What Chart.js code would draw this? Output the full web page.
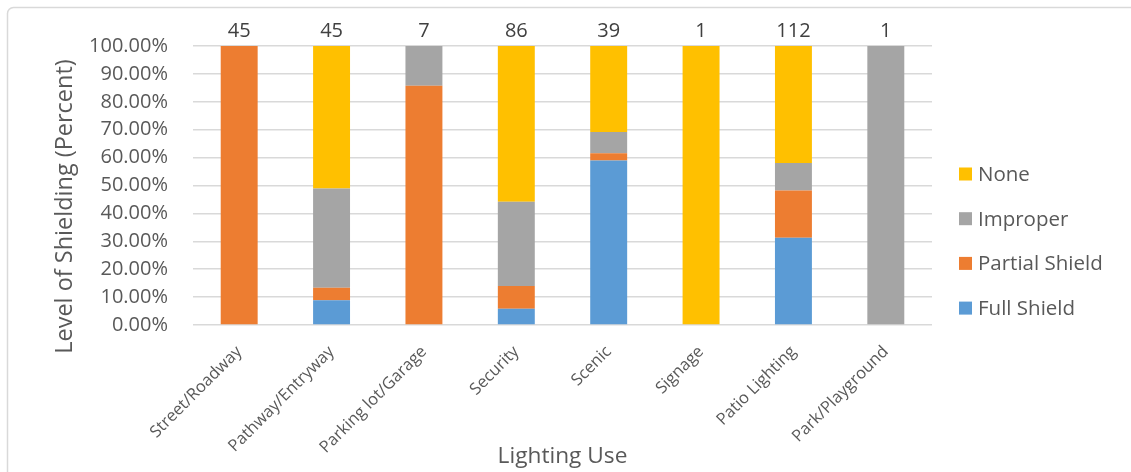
<!DOCTYPE html>
<html>
<head>
<meta charset="utf-8">
<script src="https://cdn.jsdelivr.net/npm/chart.js@4/dist/chart.umd.min.js"></script>
<style>
  html, body { margin: 0; padding: 0; background: #ffffff; }
  canvas { display: block; }
</style>
</head>
<body>
<canvas id="chart" width="1131" height="472"></canvas>
<script>
// Lighting uses surveyed
const categories = ['Street/Roadway', 'Pathway/Entryway', 'Parking lot/Garage', 'Security',
                    'Scenic', 'Signage', 'Patio Lighting', 'Park/Playground'];

// Number of fixtures counted per use (shown above each bar)
const fixtureCounts = [45, 45, 7, 86, 39, 1, 112, 1];

// Share of fixtures by shielding level, in percent
const fullShield    = [0,   8.89, 0,     5.81, 58.97, 0,   31.25, 0];
const partialShield = [100, 4.44, 85.71, 8.14, 2.56,  0,   16.96, 0];
const improper      = [0,   35.56, 14.29, 30.23, 7.69, 0,  9.82,  100];
const none          = [0,   51.11, 0,     55.81, 30.77, 100, 41.96, 0];

const seriesNames  = ['Full Shield', 'Partial Shield', 'Improper', 'None'];
const seriesColors = ['#5B9BD5', '#ED7D31', '#A5A5A5', '#FFC000'];

const yTitle = 'Level of Shielding (Percent)';
const xTitle = 'Lighting Use';

const TEXT = '#595959';
const GRID = '#D9D9D9';

Chart.defaults.font.family = "'Open Sans', sans-serif";
Chart.defaults.color = TEXT;

// Rounded frame around the whole chart
const framePlugin = {
  id: 'frame',
  beforeDraw(chart) {
    const ctx = chart.ctx;
    ctx.save();
    ctx.strokeStyle = GRID;
    ctx.lineWidth = 1.5;
    ctx.beginPath();
    ctx.roundRect(7.5, 7.5, chart.width + 20, chart.height + 20, 6);
    ctx.stroke();
    ctx.restore();
  }
};

// Fixture counts written above the bars
const countLabels = {
  id: 'countLabels',
  afterDatasetsDraw(chart) {
    const ctx = chart.ctx;
    const xs = chart.scales.x;
    const top = chart.chartArea.top;
    ctx.save();
    ctx.font = "20px 'Open Sans', sans-serif";
    ctx.fillStyle = '#404040';
    ctx.textAlign = 'center';
    ctx.textBaseline = 'middle';
    fixtureCounts.forEach((n, i) => {
      ctx.fillText(String(n), xs.getPixelForValue(i), top - 15);
    });
    ctx.restore();
  }
};

// Vertical axis title, sitting a little below the middle of the plot
const yTitlePlugin = {
  id: 'yTitle',
  afterDraw(chart) {
    const ctx = chart.ctx;
    const area = chart.chartArea;
    ctx.save();
    ctx.translate(65, (area.top + area.bottom) / 2 + 21);
    ctx.rotate(-Math.PI / 2);
    ctx.font = "23.5px 'Open Sans', sans-serif";
    ctx.fillStyle = TEXT;
    ctx.textAlign = 'center';
    ctx.textBaseline = 'middle';
    ctx.fillText(yTitle, 0, 0);
    ctx.restore();
  }
};

// Legend on the right, top item is the top of the stack
const sideLegend = {
  id: 'sideLegend',
  afterDraw(chart) {
    const ctx = chart.ctx;
    const items = chart.data.datasets.slice().reverse();
    const x = chart.chartArea.right + 27;
    const y0 = 174;
    const step = 44.7;
    ctx.save();
    ctx.font = "20.5px 'Open Sans', sans-serif";
    ctx.textAlign = 'left';
    ctx.textBaseline = 'middle';
    items.forEach((ds, i) => {
      const y = y0 + i * step;
      ctx.fillStyle = ds.backgroundColor;
      ctx.fillRect(x, y - 6.5, 13, 13);
      ctx.fillStyle = TEXT;
      ctx.fillText(ds.label, x + 19, y + 1);
    });
    ctx.restore();
  }
};

const seriesData = [fullShield, partialShield, improper, none];

new Chart(document.getElementById('chart'), {
  type: 'bar',
  data: {
    labels: categories,
    datasets: seriesData.map((values, i) => ({
      label: seriesNames[i],
      data: values,
      backgroundColor: seriesColors[i],
      borderWidth: 0,
      categoryPercentage: 1,
      barPercentage: 0.4
    }))
  },
  options: {
    responsive: false,
    devicePixelRatio: 1,
    animation: false,
    layout: { padding: { top: 46, right: 199, bottom: 0, left: 47 } },
    plugins: {
      legend: { display: false },
      tooltip: { enabled: false }
    },
    scales: {
      x: {
        stacked: true,
        grid: { display: false },
        border: { display: false },
        ticks: {
          autoSkip: false,
          minRotation: 45,
          maxRotation: 45,
          padding: 9,
          color: TEXT,
          font: { size: 16.5 }
        },
        title: {
          display: true,
          text: xTitle,
          color: TEXT,
          font: { size: 22.7 },
          padding: { top: 4, bottom: 2 }
        },
        afterFit(scale) { scale.height = 147; }
      },
      y: {
        stacked: true,
        min: 0,
        max: 100,
        grid: { color: GRID, lineWidth: 1.5, drawTicks: false },
        border: { display: false },
        ticks: {
          stepSize: 10,
          padding: 25,
          color: TEXT,
          font: { size: 20 },
          callback: (v) => v.toFixed(2) + '%'
        },
        title: { display: false },
        afterFit(scale) { scale.width = 146; }
      }
    }
  },
  plugins: [framePlugin, countLabels, yTitlePlugin, sideLegend]
});
</script>
</body>
</html>
